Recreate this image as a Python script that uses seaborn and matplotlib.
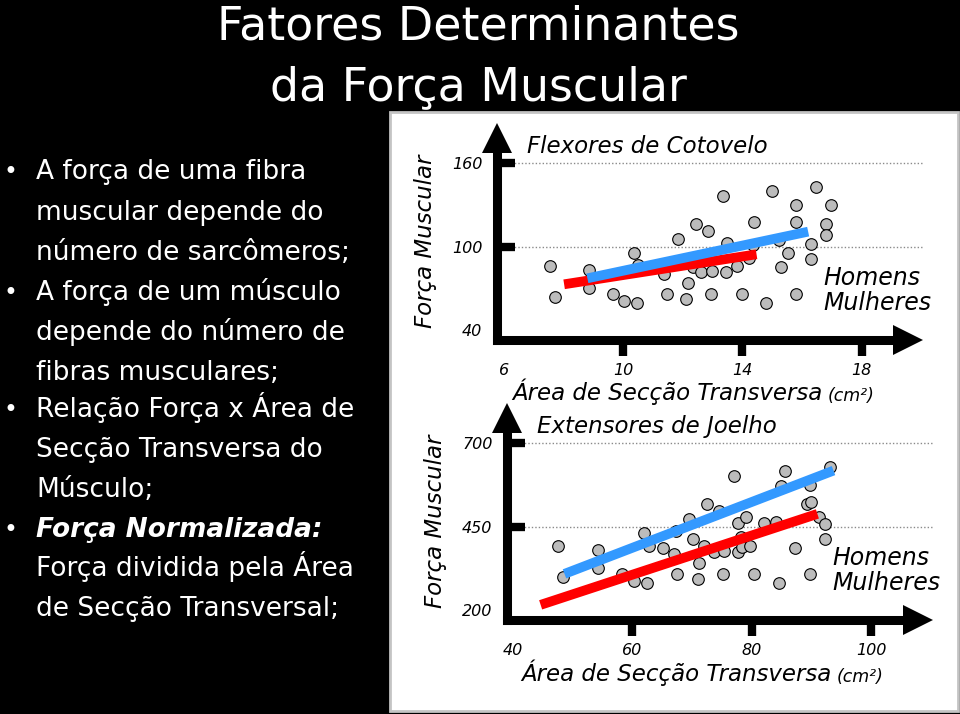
import numpy as np
import pandas as pd
import matplotlib
matplotlib.use("Agg")
import matplotlib.pyplot as plt
import matplotlib.transforms as mtransforms
from matplotlib.patches import Rectangle
import seaborn as sns

# ------------------------------------------------------------------ data
# Flexores de Cotovelo: area (cm²) vs força
flex_area = [7.55, 7.73, 8.87, 8.87, 9.67, 10.04, 10.38, 10.48, 10.5, 11.37,
             11.47, 11.85, 12.17, 12.13, 12.45, 12.36, 12.63, 12.84, 13.0, 12.96,
             13.34, 13.46, 13.5, 13.82, 14.0, 14.24, 14.36, 14.39, 14.81, 14.99,
             15.23, 15.31, 15.55, 15.81, 15.81, 15.81, 16.3, 16.3, 16.48, 16.8,
             16.8, 16.97]
flex_force = [86.3, 64, 83.2, 70.5, 65.9, 60.9, 95.7, 59.4, 86.8, 80,
              65.9, 105.3, 73.6, 62.6, 116.3, 85.6, 81.8, 111.5, 82.7, 65.9,
              136.7, 81.8, 102.4, 86.1, 65.9, 92, 101.2, 117.5, 59.4, 140,
              104.8, 85.1, 95.2, 130.2, 117.5, 65.9, 101.9, 91.1, 143.2, 116.3,
              108.4, 130.2]
flex_homens_x = [8.81, 16.21]
flex_homens_y = [77.2, 110.8]
flex_mulheres_x = [8.03, 14.48]
flex_mulheres_y = [72.9, 94.5]
flex_xticks = [6, 10, 14, 18]
flex_yticks = [40, 100, 160]

# Extensores de Joelho
ext_area = [47.56, 48.4, 54.27, 54.27, 58.17, 60.24, 62.0, 62.5, 62.74, 65.06,
            67.0, 67.5, 67.3, 69.45, 70.1, 71.16, 70.9, 72.56, 72.0, 73.6,
            74.5, 75.1, 75.4, 77.07, 77.7, 77.7, 78.2, 78.35, 79.1, 79.7,
            80.4, 82.1, 84.1, 84.6, 84.97, 85.5, 87.2, 89.2, 89.76, 89.88,
            89.76, 91.28, 92.3, 92.3, 93.17]
ext_force = [393, 300, 380, 327, 308, 287, 432, 281, 393, 387,
             367, 308, 438, 473, 413, 340, 294, 518, 392, 374,
             498, 308, 378, 603, 460, 374, 420, 390, 478, 393,
             308, 460, 465, 281, 572, 617, 387, 518, 576, 525,
             308, 480, 458, 413, 630]
ext_homens_x = [48.6, 93.7]
ext_homens_y = [308, 618]
ext_mulheres_x = [44.6, 91.0]
ext_mulheres_y = [215, 488]
ext_xticks = [40, 60, 80, 100]
ext_yticks = [200, 450, 700]

title_lines = ["Fatores Determinantes", "da Força Muscular"]
bullet_lines = [
    ("•", "A força de uma fibra", "normal"),
    ("", "muscular depende do", "normal"),
    ("", "número de sarcômeros;", "normal"),
    ("•", "A força de um músculo", "normal"),
    ("", "depende do número de", "normal"),
    ("", "fibras musculares;", "normal"),
    ("•", "Relação Força x Área de", "normal"),
    ("", "Secção Transversa do", "normal"),
    ("", "Músculo;", "normal"),
    ("•", "Força Normalizada:", "bolditalic"),
    ("", "Força dividida pela Área", "normal"),
    ("", "de Secção Transversal;", "normal"),
]
bullet_baselines = [179, 220, 260, 300, 340, 380, 417, 457, 497, 537, 576, 616]

# ------------------------------------------------------------------ style
sns.set_theme(style="white")
plt.rcParams["font.family"] = ["DejaVu Sans"]

W, H = 960, 714
fig = plt.figure(figsize=(9.6, 7.14), dpi=100, facecolor="black")


def fx(px):
    return px / W


def fy(py):
    return 1 - py / H


# white panel (behind the axes)
fig.patches.append(Rectangle((fx(390), fy(711)), fx(958) - fx(390), fy(112) - fy(711),
                             transform=fig.transFigure, facecolor="white",
                             edgecolor="#c4c4c4", lw=2, zorder=-5))

# title
fig.text(fx(478), fy(39), title_lines[0], color="white", fontsize=33,
         ha="center", va="baseline", zorder=10)
fig.text(fx(478), fy(100), title_lines[1], color="white", fontsize=33,
         ha="center", va="baseline", zorder=10)

# bullet text
for (b, txt, st), yb in zip(bullet_lines, bullet_baselines):
    if b:
        fig.text(fx(10), fy(yb), b, color="white", fontsize=17, ha="center", va="baseline")
    if st == "bolditalic":
        fig.text(fx(36), fy(yb), txt, color="white", fontsize=19, ha="left",
                 va="baseline", fontweight="bold", fontstyle="italic")
    else:
        fig.text(fx(36), fy(yb), txt, color="white", fontsize=19, ha="left", va="baseline")


def draw_chart(rect, xlim, ylim, xticks, yticks, xs, ys, hx, hy, mx, my,
               title, xlab_pos, ylab_pos, title_pos):
    ax = fig.add_axes(rect)
    ax.set_zorder(2)
    ax.set_facecolor("none")
    df = pd.DataFrame({"area": xs, "forca": ys})
    sns.scatterplot(data=df, x="area", y="forca", s=70, color="#bcbcbc",
                    edgecolor="black", linewidth=0.8, zorder=3, ax=ax)
    sns.lineplot(x=mx, y=my, color="#ff0000", lw=7, solid_capstyle="butt",
                 zorder=4, ax=ax)
    sns.lineplot(x=hx, y=hy, color="#3399ff", lw=7, solid_capstyle="butt",
                 zorder=5, ax=ax)
    ax.set_xlim(xlim)
    ax.set_ylim(ylim)
    for s in ax.spines.values():
        s.set_visible(False)
    ax.set_xticks(xticks)
    ax.set_yticks(yticks)
    ax.set_xticklabels([str(t) for t in xticks])
    ax.set_yticklabels([str(t) for t in yticks])
    ax.tick_params(axis="x", direction="out", length=11.5, width=6, color="black",
                   pad=5, labelsize=11.5, bottom=True)
    ax.tick_params(axis="y", direction="in", length=13, width=6, color="black",
                   pad=10.5, labelsize=11.5, left=True)
    for lab in ax.get_xticklabels() + ax.get_yticklabels():
        lab.set_fontstyle("italic")
        lab.set_color("black")
    ax.grid(False)
    ax.yaxis.grid(True, linestyle=(0, (1, 1.5)), color="#8a8a8a", lw=1)
    ax.set_axisbelow(True)
    xt = ax.xaxis.get_major_ticks()
    yt = ax.yaxis.get_major_ticks()
    xt[0].tick1line.set_visible(False)
    yt[0].tick1line.set_visible(False)
    yt[0].gridline.set_visible(False)
    ax.set_xlabel("")
    ax.set_ylabel("")

    # axis lines with arrowheads
    ax.plot([0, 0.95], [0, 0], transform=ax.transAxes, color="black", lw=6.5,
            solid_capstyle="projecting", clip_on=False, zorder=6)
    ax.plot([0, 0], [0, 0.92], transform=ax.transAxes, color="black", lw=6.5,
            solid_capstyle="projecting", clip_on=False, zorder=6)
    ms = 21
    offx = mtransforms.ScaledTranslation(-ms / 2 / 72, 0, fig.dpi_scale_trans)
    offy = mtransforms.ScaledTranslation(0, -ms / 2 / 72, fig.dpi_scale_trans)
    ax.plot([1], [0], marker=">", ms=ms, mew=0, color="black",
            transform=ax.transAxes + offx, clip_on=False, zorder=6)
    ax.plot([0], [1], marker="^", ms=ms, mew=0, color="black",
            transform=ax.transAxes + offy, clip_on=False, zorder=6)

    # texts
    ax.text(title_pos[0], title_pos[1], title, transform=ax.transAxes,
            fontsize=16.5, fontstyle="italic", ha="left", va="center", color="black")
    ax.text(ylab_pos[0], ylab_pos[1], "Força Muscular", transform=ax.transAxes,
            rotation=90, fontsize=16.5, fontstyle="italic", ha="center", va="center",
            color="black")
    t = ax.text(xlab_pos[0], xlab_pos[1], "Área de Secção Transversa",
                transform=ax.transAxes, fontsize=16.5, fontstyle="italic",
                ha="left", va="center", color="black")
    ax.annotate("(cm²)", xy=(1, 0), xycoords=t, xytext=(4, 0),
                textcoords="offset points", ha="left", va="bottom",
                fontsize=12.5, fontstyle="italic", color="black")
    ax.text(0.765, 0.286, "Homens", transform=ax.transAxes, fontsize=17,
            fontstyle="italic", ha="left", va="center", color="black")
    ax.text(0.765, 0.171, "Mulheres", transform=ax.transAxes, fontsize=17,
            fontstyle="italic", ha="left", va="center", color="black")
    return ax


draw_chart([fx(497), fy(340), fx(923) - fx(497), fy(123.3) - fy(340)],
           (5.78, 20.06), (32.8, 188.8), flex_xticks, flex_yticks,
           flex_area, flex_force, flex_homens_x, flex_homens_y,
           flex_mulheres_x, flex_mulheres_y, "Flexores de Cotovelo",
           (0.035, -0.238), (-0.167, 0.4545), (0.07, 0.891))

draw_chart([fx(507), fy(620), fx(932.5) - fx(507), fy(403.3) - fy(620)],
           (38.96, 110.3), (169.5, 820), ext_xticks, ext_yticks,
           ext_area, ext_force, ext_homens_x, ext_homens_y,
           ext_mulheres_x, ext_mulheres_y, "Extensores de Joelho",
           (0.033, -0.245), (-0.169, 0.4545), (0.0705, 0.891))

fig.savefig("out.png", dpi=100, facecolor="black")
